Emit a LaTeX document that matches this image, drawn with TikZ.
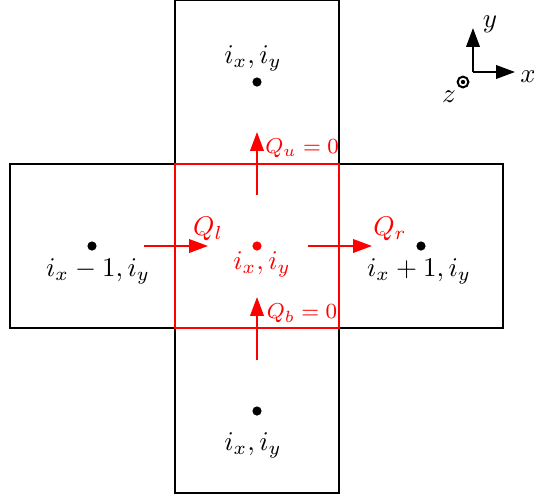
\documentclass[tikz,border=0pt]{standalone}
\usetikzlibrary{arrows.meta}
\begin{document}
\begin{tikzpicture}[x=0.37pt,y=-0.37pt,
  cell/.style={draw=black,line width=0.75pt,minimum width=60.7pt,minimum height=60.7pt,inner sep=0pt},
  redcell/.style={draw=red,line width=0.75pt,minimum width=60.7pt,minimum height=60.7pt,inner sep=0pt},
  pt/.style={circle,fill=black,inner sep=0pt,minimum size=3.4pt},
  redpt/.style={circle,fill=red,inner sep=0pt,minimum size=3.4pt},
  flux/.style={red,line width=0.75pt,-{Triangle[length=7pt,width=5pt]}},
  axis/.style={black,line width=0.75pt,-{Triangle[length=7pt,width=5pt]}},
  lbl/.style={inner sep=0pt},
  qlbl/.style={red,inner sep=0pt,font=\footnotesize}]
\useasboundingbox (0,0) rectangle (534,500);
% cells
\node[cell] (L) at (92.5,246) {};
\node[cell] (R) at (421,246) {};
\node[cell] (T) at (257,82) {};
\node[cell] (B) at (257,410.5) {};
\node[redcell] (C) at (257,246) {};
% points
\node[pt] (pL) at (92,246) {};
\node[pt] (pR) at (421,246) {};
\node[pt] (pT) at (257,82) {};
\node[pt] (pB) at (257,411) {};
\node[redpt] (pC) at (257,246) {};
% labels
\node[lbl] (tL) at (98,271) {$i_x-1,i_y$};
\node[lbl] (tR) at (419,271) {$i_x+1,i_y$};
\node[lbl] (tT) at (253,58) {$i_x,i_y$};
\node[lbl] (tB) at (253,445) {$i_x,i_y$};
\node[lbl,red] (tC) at (262,264) {$i_x,i_y$};
% fluxes
\coordinate (l0) at (144,246); \coordinate (l1) at (208,246);
\coordinate (r0) at (308,246); \coordinate (r1) at (372,246);
\coordinate (u0) at (257,195); \coordinate (u1) at (257,132);
\coordinate (b0) at (257,360); \coordinate (b1) at (257,297);
\draw[flux] (l0) -- (l1);
\draw[flux] (r0) -- (r1);
\draw[flux] (u0) -- (u1);
\draw[flux] (b0) -- (b1);
\node[lbl,red] (ql) at (208,229) {$Q_l$};
\node[lbl,red] (qr) at (390,229) {$Q_r$};
\node[qlbl] (qu) at (302,148) {$Q_u=0$};
\node[qlbl] (qb) at (302,313) {$Q_b=0$};
% axes
\coordinate (O) at (473,72);
\coordinate (Y) at (473,28);
\coordinate (X) at (515,72);
\draw[axis] (O) -- (Y);
\draw[axis] (O) -- (X);
\node[lbl] (ylab) at (490,24) {$y$};
\node[lbl] (xlab) at (528,77) {$x$};
\node[circle,draw=black,line width=0.75pt,minimum size=4pt,inner sep=0pt] (zc) at (463,82) {};
\node[circle,fill=black,inner sep=0pt,minimum size=1.6pt] (zd) at (463,82) {};
\node[lbl] (zlab) at (449,97) {$z$};
\end{tikzpicture}
\end{document}
